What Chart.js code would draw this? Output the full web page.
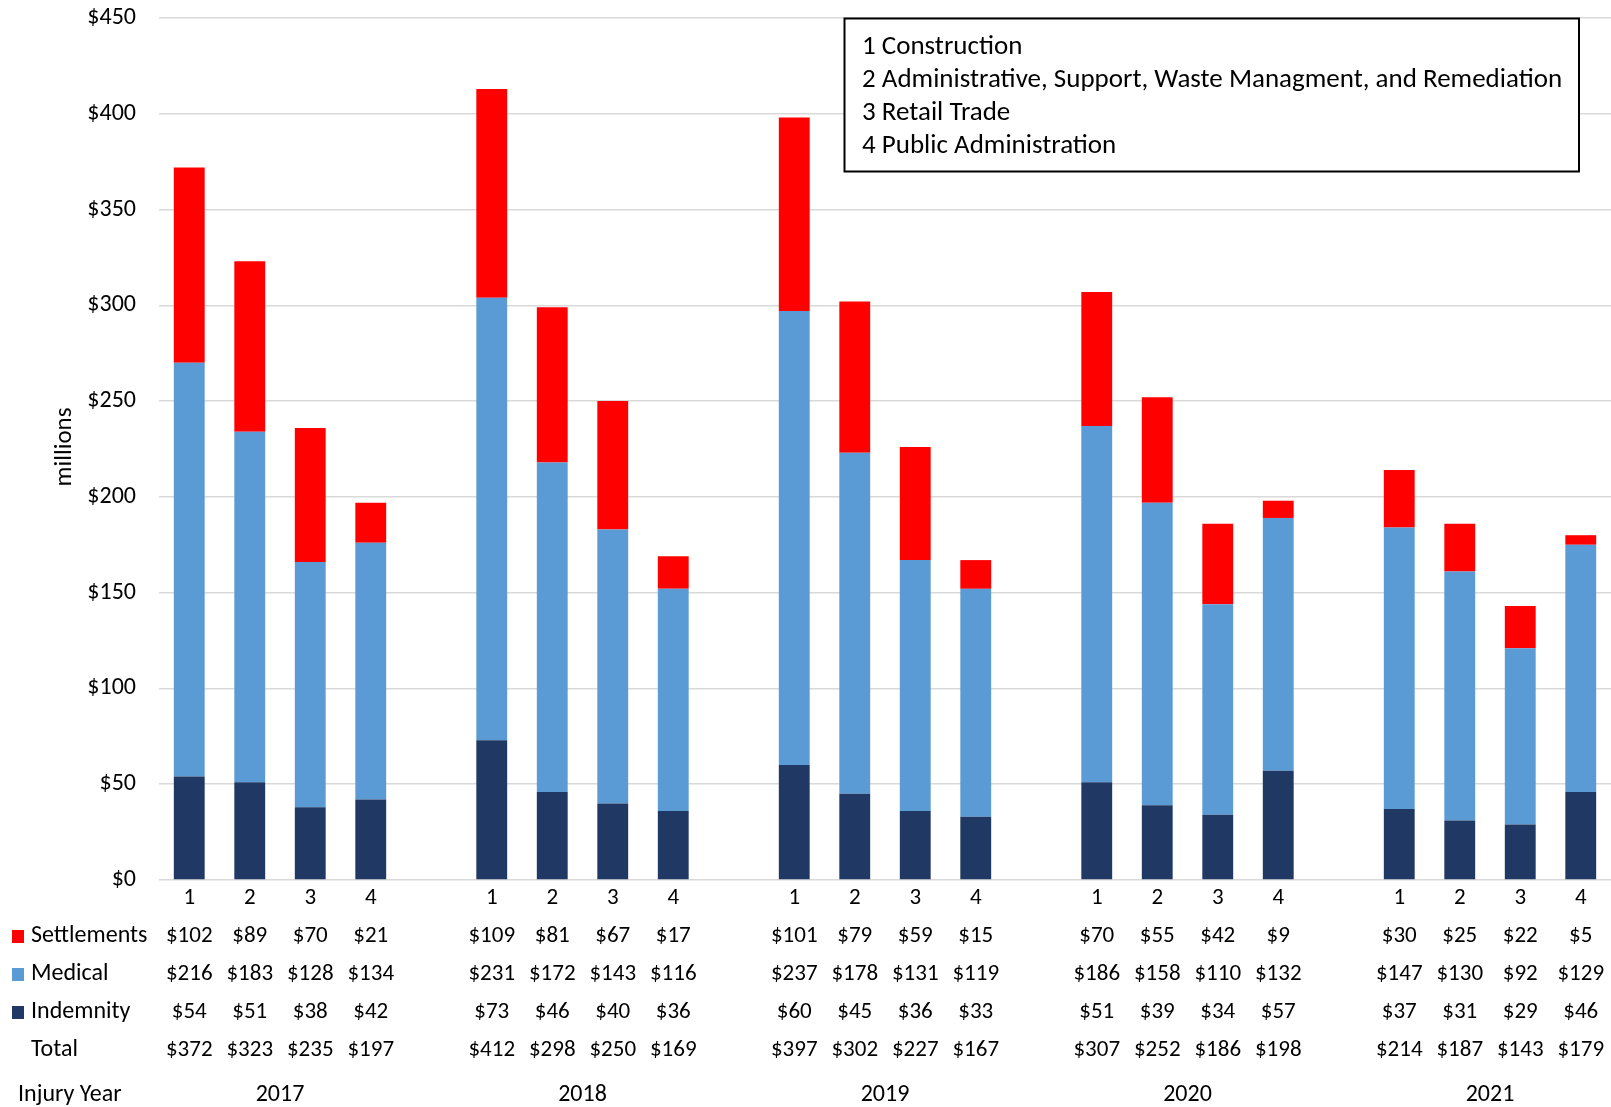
<!DOCTYPE html>
<html>
<head>
<meta charset="utf-8">
<script src="https://cdn.jsdelivr.net/npm/chart.js@4.4.0/dist/chart.umd.min.js"></script>
<style>
    html, body { margin: 0; padding: 0; background: #ffffff; }
    #wrap { width: 1611px; height: 1107px; position: relative; }
</style>
</head>
<body>
<div id="wrap"><canvas id="chart" width="1611" height="1107"></canvas></div>
<script>
// ========================================
// Claim costs by industry and injury year
// ========================================

const years = ['2017', '2018', '2019', '2020', '2021'];
const industries = ['1', '2', '3', '4'];
const industryNames = [
    '1 Construction',
    '2 Administrative, Support, Waste Managment, and Remediation',
    '3 Retail Trade',
    '4 Public Administration'
];

// values in millions, per year: industries 1..4
const settlements = [102, 89, 70, 21, 109, 81, 67, 17, 101, 79, 59, 15, 70, 55, 42, 9, 30, 25, 22, 5];
const medical = [216, 183, 128, 134, 231, 172, 143, 116, 237, 178, 131, 119, 186, 158, 110, 132, 147, 130, 92, 129];
const indemnity = [54, 51, 38, 42, 73, 46, 40, 36, 60, 45, 36, 33, 51, 39, 34, 57, 37, 31, 29, 46];
const totals = [372, 323, 235, 197, 412, 298, 250, 169, 397, 302, 227, 167, 307, 252, 186, 198, 214, 187, 143, 179];

const yTicks = [0, 50, 100, 150, 200, 250, 300, 350, 400, 450];

const FONT = 'Carlito, Lato, sans-serif';
const COLORS = {
    settlements: '#FF0000',
    medical: '#5B9BD5',
    indemnity: '#203864',
    grid: '#D9D9D9',
    text: '#000000'
};

// Build slot layout: 4 bars per year with an empty slot between years
const labels = [];
const slotIndex = []; // maps slot -> data index (or null for gaps)
years.forEach((yr, y) => {
    industries.forEach((ind, i) => {
        labels.push(ind);
        slotIndex.push(y * industries.length + i);
    });
    if (y < years.length - 1) {
        labels.push('');
        slotIndex.push(null);
    }
});

const toSlots = (arr) => slotIndex.map(i => (i === null ? null : arr[i]));

const tableRows = [
    { label: 'Settlements', values: settlements, color: COLORS.settlements, y: 936 },
    { label: 'Medical', values: medical, color: COLORS.medical, y: 974 },
    { label: 'Indemnity', values: indemnity, color: COLORS.indemnity, y: 1012 },
    { label: 'Total', values: totals, color: null, y: 1050 }
];

const dataTablePlugin = {
    id: 'dataTable',
    afterDraw(chart) {
        const ctx = chart.ctx;
        const xScale = chart.scales.x;
        ctx.save();
        ctx.fillStyle = COLORS.text;
        ctx.textBaseline = 'middle';

        // category numbers and table values
        ctx.font = `23px ${FONT}`;
        ctx.textAlign = 'center';
        slotIndex.forEach((di, s) => {
            if (di === null) return;
            const x = xScale.getPixelForValue(s);
            ctx.fillText(labels[s], x, 898);
            tableRows.forEach(row => {
                ctx.fillText('$' + row.values[di], x, row.y);
            });
        });

        // row headers
        ctx.font = `24px ${FONT}`;
        ctx.textAlign = 'left';
        tableRows.forEach(row => {
            if (row.color) {
                ctx.fillStyle = row.color;
                ctx.fillRect(12, row.y - 6, 12, 13);
            }
            ctx.fillStyle = COLORS.text;
            ctx.fillText(row.label, 31, row.y);
        });
        ctx.fillText('Injury Year', 18, 1095);

        // year labels centred under each group
        ctx.textAlign = 'center';
        years.forEach((yr, y) => {
            const first = y * (industries.length + 1);
            const last = first + industries.length - 1;
            const x = (xScale.getPixelForValue(first) + xScale.getPixelForValue(last)) / 2;
            ctx.fillText(yr, x, 1095);
        });

        // y axis title
        ctx.save();
        ctx.translate(65, 447);
        ctx.rotate(-Math.PI / 2);
        ctx.textAlign = 'center';
        ctx.font = `25px ${FONT}`;
        ctx.fillText('millions', 0, 0);
        ctx.restore();

        // industry key box
        ctx.fillStyle = '#ffffff';
        ctx.fillRect(844.5, 18.5, 734.5, 153);
        ctx.strokeStyle = '#000000';
        ctx.lineWidth = 2;
        ctx.strokeRect(844.5, 18.5, 734.5, 153);
        ctx.fillStyle = COLORS.text;
        ctx.textAlign = 'left';
        ctx.font = `27px ${FONT}`;
        industryNames.forEach((name, i) => {
            ctx.fillText(name, 862, 47 + i * 33);
        });
        ctx.restore();
    }
};

const ctx = document.getElementById('chart').getContext('2d');
new Chart(ctx, {
    type: 'bar',
    data: {
        labels: labels,
        datasets: [
            { label: 'Indemnity', data: toSlots(indemnity), backgroundColor: COLORS.indemnity },
            { label: 'Medical', data: toSlots(medical), backgroundColor: COLORS.medical },
            { label: 'Settlements', data: toSlots(settlements), backgroundColor: COLORS.settlements }
        ]
    },
    options: {
        responsive: false,
        maintainAspectRatio: false,
        animation: false,
        layout: {
            padding: { top: 18, right: 0, bottom: 219, left: 0 }
        },
        datasets: {
            bar: {
                barPercentage: 1,
                categoryPercentage: 0.51,
                borderWidth: 0
            }
        },
        scales: {
            x: {
                stacked: true,
                grid: { display: false },
                border: { display: false },
                ticks: { display: false }
            },
            y: {
                stacked: true,
                min: 0,
                max: 450,
                afterBuildTicks: (scale) => {
                    scale.ticks = yTicks.map(v => ({ value: v }));
                },
                afterFit: (scale) => {
                    scale.width = 159;
                    scale.paddingTop = 0;
                    scale.paddingBottom = 0;
                },
                grid: { color: COLORS.grid, lineWidth: 1.5, drawTicks: false },
                border: { display: false },
                ticks: {
                    padding: 23,
                    color: COLORS.text,
                    font: { family: FONT, size: 24 },
                    callback: (v) => '$' + v
                }
            }
        },
        plugins: {
            legend: { display: false },
            tooltip: { enabled: false }
        }
    },
    plugins: [dataTablePlugin]
});
</script>
</body>
</html>
